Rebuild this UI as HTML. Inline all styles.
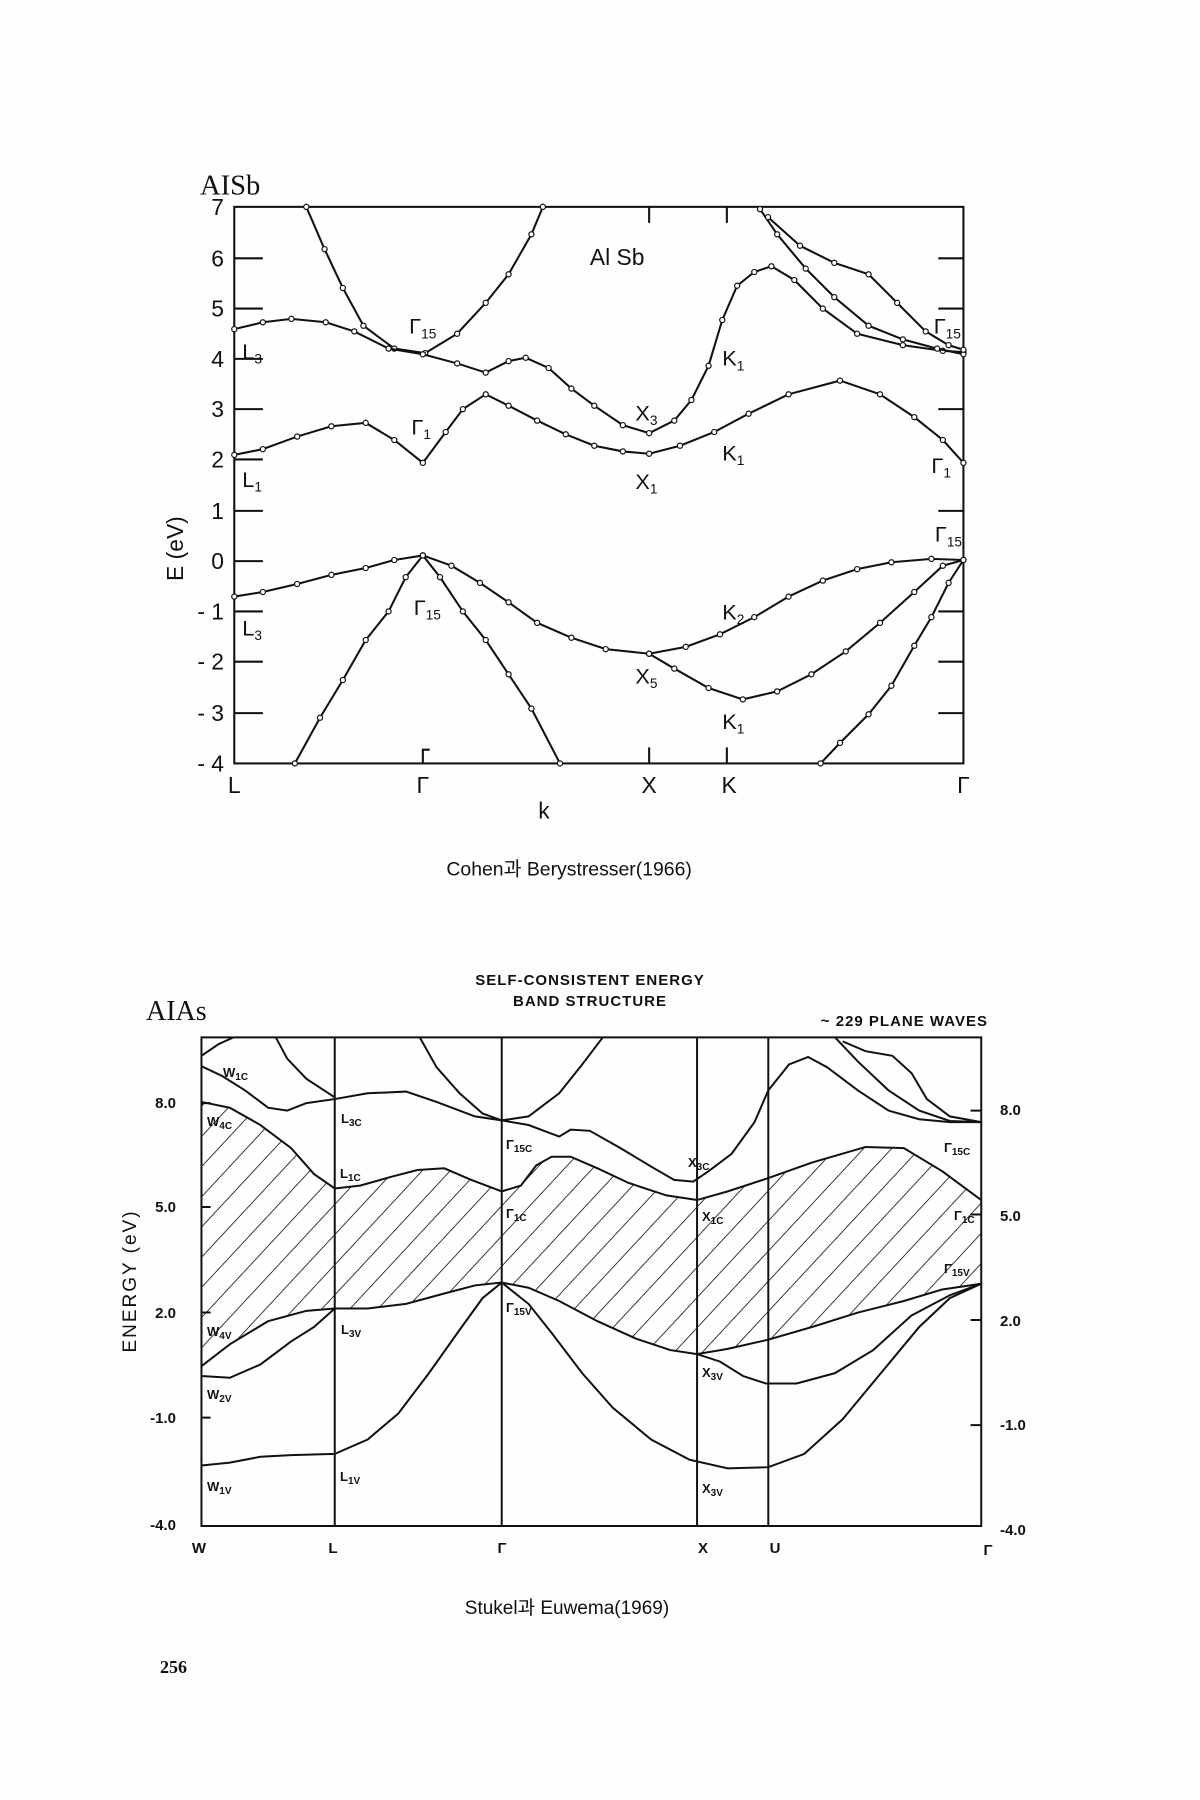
<!DOCTYPE html>
<html><head><meta charset="utf-8"><style>
html,body{margin:0;padding:0;background:#fefefe;}
svg{display:block}
text{font-family:"Liberation Sans","Noto Sans CJK KR",sans-serif;fill:#111}
.s{font-family:"Liberation Serif",serif}
</style></head><body>
<svg width="1200" height="1800" viewBox="0 0 1200 1800" xmlns="http://www.w3.org/2000/svg">
<defs>
<marker id="c" viewBox="0 0 8 8" refX="4" refY="4" markerWidth="6" markerHeight="6" markerUnits="userSpaceOnUse"><circle cx="4" cy="4" r="3" fill="#fff" stroke="#111" stroke-width="1.4"/></marker>
<pattern id="h" patternUnits="userSpaceOnUse" width="30" height="30" patternTransform="rotate(35)"><line x1="0" y1="0" x2="0" y2="30" stroke="#111" stroke-width="2.4"/></pattern>
</defs>
<rect width="1200" height="1800" fill="#fefefe"/>

<g transform="scale(1.142857)">
<g fill="none" stroke="#111" stroke-width="1.8">
<rect x="205" y="181" width="638" height="487"/>
<path d="M205,226h25M205,270h25M205,314h25M205,358h25M205,402h25M205,447h25M205,491h25M205,535h25M205,579h25M205,624h25"/>
<path d="M843,226h-22M843,270h-22M843,358h-22M843,447h-22M843,535h-22M843,579h-22M843,624h-22"/>
<path d="M568,181v14M636,181v14M568,668v-14M636,668v-14M370,668v-12h6"/>
<g marker-start="url(#c)" marker-mid="url(#c)" marker-end="url(#c)">
<polyline points="268,181 284,218 300,252 318,285 345,305 372,309 400,292 425,265 445,240 465,205 475,181"/>
<polyline points="205,288 230,282 255,279 285,282 310,290 340,305 370,310 400,318 425,326 445,316 460,313 480,322 500,340 520,355 545,372 568,379 590,368 605,350 620,320 632,280 645,250 660,238 675,233 695,245 720,270 750,292 790,302 825,307 843,308"/>
<polyline points="665,183 680,205 705,235 730,260 760,285 790,297 820,305 843,310"/>
<polyline points="672,190 700,215 730,230 760,240 785,265 810,290 830,302 843,306"/>
<polyline points="205,398 230,393 260,382 290,373 320,370 345,385 370,405 390,378 405,358 425,345 445,355 470,368 495,380 520,390 545,395 568,397 595,390 625,378 655,362 690,345 735,333 770,345 800,365 825,385 843,405"/>
<polyline points="205,522 230,518 260,511 290,503 320,497 345,490 370,486 395,495 420,510 445,527 470,545 500,558 530,568 568,572 600,566 630,555 660,540 690,522 720,508 750,498 780,492 815,489 843,490"/>
<polyline points="568,572 590,585 620,602 650,612 680,605 710,590 740,570 770,545 800,518 825,495 843,490"/>
<polyline points="258,668 280,628 300,595 320,560 340,535 355,505 370,486"/>
<polyline points="370,486 385,505 405,535 425,560 445,590 465,620 490,668"/>
<polyline points="843,490 830,510 815,540 800,565 780,600 760,625 735,650 718,668"/>
</g>
</g>
<g font-size="20">
<text x="196" y="188" text-anchor="end">7</text>
<text x="196" y="233" text-anchor="end">6</text>
<text x="196" y="277" text-anchor="end">5</text>
<text x="196" y="321" text-anchor="end">4</text>
<text x="196" y="365" text-anchor="end">3</text>
<text x="196" y="409" text-anchor="end">2</text>
<text x="196" y="454" text-anchor="end">1</text>
<text x="196" y="498" text-anchor="end">0</text>
<text x="196" y="542" text-anchor="end">- 1</text>
<text x="196" y="586" text-anchor="end">- 2</text>
<text x="196" y="631" text-anchor="end">- 3</text>
<text x="196" y="675" text-anchor="end">- 4</text>
<text x="205" y="694" text-anchor="middle">L</text>
<text x="370" y="694" text-anchor="middle">Γ</text>
<text x="568" y="694" text-anchor="middle">X</text>
<text x="638" y="694" text-anchor="middle">K</text>
<text x="843" y="694" text-anchor="middle">Γ</text>
<text x="476" y="716" text-anchor="middle">k</text>
<text x="540" y="232" text-anchor="middle">Al Sb</text>
<text transform="translate(160,480) rotate(-90)" text-anchor="middle">E (eV)</text>
</g>
<text x="175" y="170" class="s" font-size="25">AISb</text>
<g font-size="19">
<text x="358" y="292">Γ<tspan font-size="12" dy="4">15</tspan></text>
<text x="212" y="314">L<tspan font-size="12" dy="4">3</tspan></text>
<text x="632" y="320">K<tspan font-size="12" dy="4">1</tspan></text>
<text x="556" y="368">X<tspan font-size="12" dy="4">3</tspan></text>
<text x="360" y="380">Γ<tspan font-size="12" dy="4">1</tspan></text>
<text x="212" y="426">L<tspan font-size="12" dy="4">1</tspan></text>
<text x="556" y="428">X<tspan font-size="12" dy="4">1</tspan></text>
<text x="632" y="403">K<tspan font-size="12" dy="4">1</tspan></text>
<text x="815" y="414">Γ<tspan font-size="12" dy="4">1</tspan></text>
<text x="817" y="292">Γ<tspan font-size="12" dy="4">15</tspan></text>
<text x="818" y="474">Γ<tspan font-size="12" dy="4">15</tspan></text>
<text x="362" y="538">Γ<tspan font-size="12" dy="4">15</tspan></text>
<text x="212" y="556">L<tspan font-size="12" dy="4">3</tspan></text>
<text x="632" y="542">K<tspan font-size="12" dy="4">2</tspan></text>
<text x="556" y="598">X<tspan font-size="12" dy="4">5</tspan></text>
<text x="632" y="638">K<tspan font-size="12" dy="4">1</tspan></text>
</g>
<text x="498" y="766" text-anchor="middle" font-size="17">Cohen과 Berystresser(1966)</text>
</g>

<g transform="matrix(0.766,0,0,0.577,0,900)">
<polygon fill="url(#h)" points="263,350 300,360 340,390 380,430 410,475 437,500 470,495 510,480 545,468 580,465 615,485 655,505 680,495 700,460 720,445 745,445 780,465 820,490 870,512 910,520 950,505 1003,482 1060,455 1130,428 1180,430 1230,470 1281,520 1281,665 1230,675 1180,695 1120,715 1060,740 1003,762 950,778 910,787 875,780 830,760 780,730 730,695 690,672 655,663 620,668 580,682 530,700 480,708 437,708 400,712 350,730 300,770 263,808"/>
<g fill="none" stroke="#111" stroke-width="2" vector-effect="non-scaling-stroke">
<rect x="263" y="238" width="1018" height="847" vector-effect="non-scaling-stroke"/>
<path vector-effect="non-scaling-stroke" d="M437,238V1085M655,238V1085M910,238V1085M1003,238V1085"/>
<path vector-effect="non-scaling-stroke" d="M263,352h12M263,532h12M263,715h12M263,897h12M1281,365h-14M1281,545h-14M1281,728h-14M1281,910h-14"/>
<polyline vector-effect="non-scaling-stroke" points="263,350 300,360 340,390 380,430 410,475 437,500 470,495 510,480 545,468 580,465 615,485 655,505 680,495 700,460 720,445 745,445 780,465 820,490 870,512 910,520 950,505 1003,482 1060,455 1130,428 1180,430 1230,470 1281,520"/>
<polyline vector-effect="non-scaling-stroke" points="263,808 300,770 350,730 400,712 437,708 480,708 530,700 580,682 620,668 655,663 690,672 730,695 780,730 830,760 875,780 910,787 950,778 1003,762 1060,740 1120,715 1180,695 1230,675 1281,665"/>
<polyline vector-effect="non-scaling-stroke" points="263,288 290,305 320,330 350,360 375,365 400,352 437,345 480,335 530,332 570,350 620,375 655,382 690,390 730,410 745,398 770,400 810,430 850,462 880,485 905,488 925,470 955,440 985,385 1003,330 1030,285 1055,272 1080,290 1120,330 1160,365 1200,380 1240,385 1281,385"/>
<polyline vector-effect="non-scaling-stroke" points="360,238 375,275 400,310 437,342"/>
<polyline vector-effect="non-scaling-stroke" points="263,270 285,250 305,238"/>
<polyline vector-effect="non-scaling-stroke" points="548,238 570,290 600,335 630,370 655,382 690,375 730,335 760,285 787,238"/>
<polyline vector-effect="non-scaling-stroke" points="1090,238 1120,280 1160,330 1200,365 1240,383 1281,385"/>
<polyline vector-effect="non-scaling-stroke" points="1100,245 1130,262 1165,270 1190,300 1210,345 1240,375 1281,385"/>
<polyline vector-effect="non-scaling-stroke" points="263,825 300,828 340,805 380,765 410,740 437,708"/>
<polyline vector-effect="non-scaling-stroke" points="655,663 690,700 720,750 760,820 800,880 850,935 900,970 950,985 1003,983 1050,960 1100,900 1150,820 1200,740 1240,690 1281,665"/>
<polyline vector-effect="non-scaling-stroke" points="263,980 300,975 340,965 380,962 437,960 480,935 520,890 560,820 600,745 630,690 655,663"/>
<polyline vector-effect="non-scaling-stroke" points="910,787 940,800 970,825 1000,838 1040,838 1090,820 1140,780 1190,720 1240,685 1281,665"/>
</g>
</g>
<g font-size="15" font-weight="bold">
<text x="590" y="985" text-anchor="middle" letter-spacing="1">SELF-CONSISTENT ENERGY</text>
<text x="590" y="1006" text-anchor="middle" letter-spacing="1">BAND STRUCTURE</text>
<text x="988" y="1026" text-anchor="end" letter-spacing="1">~ 229 PLANE WAVES</text>
<text x="176" y="1108" text-anchor="end">8.0</text>
<text x="176" y="1212" text-anchor="end">5.0</text>
<text x="176" y="1318" text-anchor="end">2.0</text>
<text x="176" y="1423" text-anchor="end">-1.0</text>
<text x="176" y="1530" text-anchor="end">-4.0</text>
<text x="1000" y="1115">8.0</text>
<text x="1000" y="1221">5.0</text>
<text x="1000" y="1326">2.0</text>
<text x="1000" y="1430">-1.0</text>
<text x="1000" y="1535">-4.0</text>
<text x="199" y="1553" text-anchor="middle">W</text>
<text x="333" y="1553" text-anchor="middle">L</text>
<text x="502" y="1553" text-anchor="middle">Γ</text>
<text x="703" y="1553" text-anchor="middle">X</text>
<text x="775" y="1553" text-anchor="middle">U</text>
<text x="988" y="1555" text-anchor="middle">Γ</text>
</g>
<text transform="translate(136,1281) rotate(-90)" text-anchor="middle" font-size="19" letter-spacing="2">ENERGY   (eV)</text>
<text x="146" y="1020" class="s" font-size="28">AIAs</text>
<g font-size="13" font-weight="bold">
<text x="223" y="1077">W<tspan font-size="10" dy="3">1C</tspan></text>
<text x="207" y="1126">W<tspan font-size="10" dy="3">4C</tspan></text>
<text x="341" y="1123">L<tspan font-size="10" dy="3">3C</tspan></text>
<text x="506" y="1149">Γ<tspan font-size="10" dy="3">15C</tspan></text>
<text x="688" y="1167">X<tspan font-size="10" dy="3">3C</tspan></text>
<text x="944" y="1152">Γ<tspan font-size="10" dy="3">15C</tspan></text>
<text x="340" y="1178">L<tspan font-size="10" dy="3">1C</tspan></text>
<text x="506" y="1218">Γ<tspan font-size="10" dy="3">1C</tspan></text>
<text x="702" y="1221">X<tspan font-size="10" dy="3">1C</tspan></text>
<text x="954" y="1220">Γ<tspan font-size="10" dy="3">1C</tspan></text>
<text x="944" y="1273">Γ<tspan font-size="10" dy="3">15V</tspan></text>
<text x="506" y="1312">Γ<tspan font-size="10" dy="3">15V</tspan></text>
<text x="207" y="1336">W<tspan font-size="10" dy="3">4V</tspan></text>
<text x="341" y="1334">L<tspan font-size="10" dy="3">3V</tspan></text>
<text x="702" y="1377">X<tspan font-size="10" dy="3">3V</tspan></text>
<text x="207" y="1399">W<tspan font-size="10" dy="3">2V</tspan></text>
<text x="207" y="1491">W<tspan font-size="10" dy="3">1V</tspan></text>
<text x="340" y="1481">L<tspan font-size="10" dy="3">1V</tspan></text>
<text x="702" y="1493">X<tspan font-size="10" dy="3">3V</tspan></text>
</g>
<text x="567" y="1614" text-anchor="middle" font-size="19">Stukel과 Euwema(1969)</text>
<text x="160" y="1673" class="s" font-size="18" font-weight="bold">256</text>
</svg>
</body></html>
